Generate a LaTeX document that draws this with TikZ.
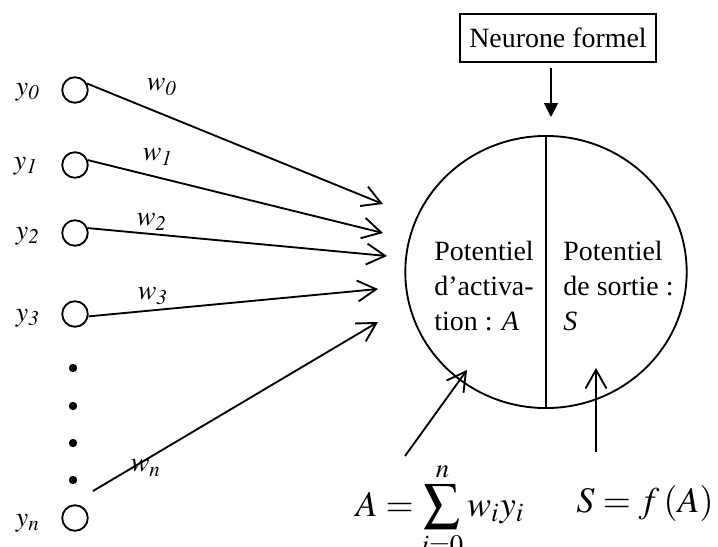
\documentclass[tikz,border=0pt]{standalone}
\usepackage{mathptmx}
\usepackage{fontspec}
\setmainfont{Liberation Serif}
\usetikzlibrary{arrows.meta,shapes.geometric}

\begin{document}
\begin{tikzpicture}[x=0.43pt, y=-0.43pt,
	entree/.style={draw, circle, thick, minimum size=11pt, inner sep=0pt},
	fleche/.style={thick, -{Straight Barb[length=8pt,width=9pt]}},
	font=\fontsize{12}{15}\selectfont]
	\useasboundingbox (0,0) rectangle (718,546);

	% entrees
	\node[entree] (e0) at (75,90){};
	\node[entree] (e1) at (75,165){};
	\node[entree] (e2) at (75,233){};
	\node[entree] (e3) at (75,314){};
	\node[entree] (en) at (75,518){};

	\node (y0) at (28,92){$y_{\mathit{0}}$};
	\node (y1) at (26,166){$y_{\mathit{1}}$};
	\node (y2) at (28,236){$y_{\mathit{2}}$};
	\node (y3) at (28,318){$y_{\mathit{3}}$};
	\node (yn) at (28,523){$y_n$};

	\foreach \yy in {368,406,443,480}
		\fill (73,\yy) circle (1.8pt);

	% poids
	\coordinate (t0) at (383,204);
	\coordinate (t1) at (383,233);
	\coordinate (t2) at (387,256);
	\coordinate (t3) at (378,289);
	\coordinate (tn) at (378,322);
	\coordinate (sn) at (93,491);

	\draw[fleche] (e0.28) -- (t0);
	\draw[fleche] (e1.21) -- (t1);
	\draw[fleche] (e2.21) -- (t2);
	\draw[fleche] (e3.-10) -- (t3);
	\draw[fleche] (sn) -- (tn);

	\node (w0) at (162,87){$w_{\mathit{0}}$};
	\node (w1) at (158,157){$w_{\mathit{1}}$};
	\node (w2) at (152,222){$w_{\mathit{2}}$};
	\node (w3) at (153,296){$w_{\mathit{3}}$};
	\node (wn) at (146,468){$w_n$};

	% neurone
	\node[draw, thick, minimum height=21pt, inner xsep=4pt] (titre) at (558,38){Neurone formel};
	\coordinate (hb) at (551,117);
	\draw[thick, -{Triangle[length=6pt,width=6pt]}] ([yshift=-2pt]titre.south -| hb) -- (hb);

	\node[draw, thick, ellipse, minimum width=121pt, minimum height=117pt, inner sep=0pt] (neur) at (546,272){};
	\draw[thick] (neur.north) -- (neur.south);

	\node[align=left, anchor=west, inner sep=0pt] (pA) at (434,286){Potentiel\\d’activa-\\tion : \textit{A}};
	\node[align=left, anchor=west, inner sep=0pt] (pS) at (563,286){Potentiel\\de sortie :\\\textit{S}};

	% formules
	\coordinate (bA) at (405,456);
	\coordinate (tA) at (467,370);
	\coordinate (bS) at (596,452);
	\coordinate (tS) at (596,368);
	\draw[fleche] (bA) -- (tA);
	\draw[fleche] (bS) -- (tS);

	\node[anchor=base, inner sep=0pt] (fA) at (440,516){\fontsize{15.5}{18}\selectfont $A = \displaystyle\sum_{i=0}^{n} w_i y_i$};
	\node[anchor=base, inner sep=0pt] (fS) at (645,512){\fontsize{15.5}{18}\selectfont $S = f\,(A)$};
\end{tikzpicture}
\end{document}
